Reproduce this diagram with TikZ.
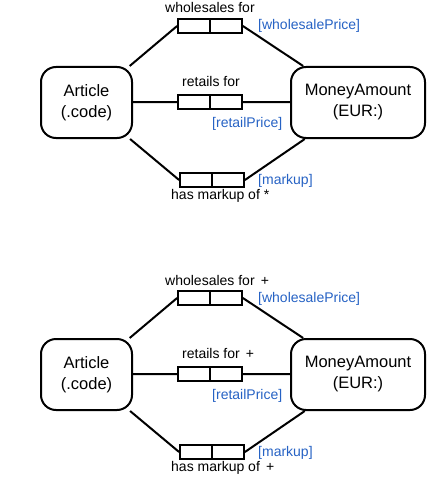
\documentclass[tikz,border=0pt]{standalone}
\usepackage{fontspec}
\setmainfont{Liberation Sans}
\definecolor{roleblue}{RGB}{38,98,196}

\begin{document}
\begin{tikzpicture}[x=1pt,y=-1pt]

\tikzset{ObjType/.style={draw,line width=2pt,rounded corners=15pt,minimum height=71pt,inner sep=0pt,align=center,font=\fontsize{16.5}{21}\selectfont},
  RoleBox/.style={draw,line width=1.8pt,minimum width=32pt,minimum height=14.5pt,inner sep=0pt},
  Fact/.style={font=\fontsize{14}{16}\selectfont,inner sep=0pt},
  RoleName/.style={Fact,text=roleblue},
  Link/.style={line width=2pt}}

  \useasboundingbox (0,0) rectangle (444,487);

  % first schema
  \node[ObjType,minimum width=91pt] (art1) at (86.5,102.5) {Article\\(.code)};
  \node[ObjType,minimum width=134pt] (ma1) at (358,102.5) {MoneyAmount\\(EUR:)};

  \node[RoleBox] (wa1) at (194,26) {};
  \node[RoleBox] (wb1) at (226,26) {};
  \node[RoleBox] (ra1) at (194,102) {};
  \node[RoleBox] (rb1) at (226,102) {};
  \node[RoleBox] (ka1) at (196,180) {};
  \node[RoleBox] (kb1) at (228,180) {};

  \node[Fact,anchor=base west] (wl1) at (165,13) {wholesales for};
  \node[RoleName,anchor=base west] (wn1) at (258,30) {[wholesalePrice]};
  \node[Fact,anchor=base west] (rl1) at (182,86) {retails for};
  \node[RoleName,anchor=base west] (rn1) at (212,127) {[retailPrice]};
  \node[RoleName,anchor=base west] (kn1) at (258,184) {[markup]};
  \node[Fact,anchor=base west] (kl1) at (171,199) {has markup of *};

  \draw[Link] (art1) -- (wa1.west);
  \draw[Link] (wb1.east) -- (ma1);
  \draw[Link] (art1) -- (ra1.west);
  \draw[Link] (rb1.east) -- (ma1);
  \draw[Link] (art1) -- (ka1.west);
  \draw[Link] (kb1.east) -- (ma1);

  % second schema
  \node[ObjType,minimum width=91pt] (art2) at (86.5,374.5) {Article\\(.code)};
  \node[ObjType,minimum width=134pt] (ma2) at (358,374.5) {MoneyAmount\\(EUR:)};

  \node[RoleBox] (wa2) at (194,298) {};
  \node[RoleBox] (wb2) at (226,298) {};
  \node[RoleBox] (ra2) at (194,374) {};
  \node[RoleBox] (rb2) at (226,374) {};
  \node[RoleBox] (ka2) at (196,452) {};
  \node[RoleBox] (kb2) at (228,452) {};

  \node[Fact,anchor=base west] (wl2) at (165,285) {wholesales for~\,+};
  \node[RoleName,anchor=base west] (wn2) at (258,302) {[wholesalePrice]};
  \node[Fact,anchor=base west] (rl2) at (182,358) {retails for~\,+};
  \node[RoleName,anchor=base west] (rn2) at (212,399) {[retailPrice]};
  \node[RoleName,anchor=base west] (kn2) at (258,456) {[markup]};
  \node[Fact,anchor=base west] (kl2) at (171,471) {has markup of~\,+};

  \draw[Link] (art2) -- (wa2.west);
  \draw[Link] (wb2.east) -- (ma2);
  \draw[Link] (art2) -- (ra2.west);
  \draw[Link] (rb2.east) -- (ma2);
  \draw[Link] (art2) -- (ka2.west);
  \draw[Link] (kb2.east) -- (ma2);

\end{tikzpicture}
\end{document}
